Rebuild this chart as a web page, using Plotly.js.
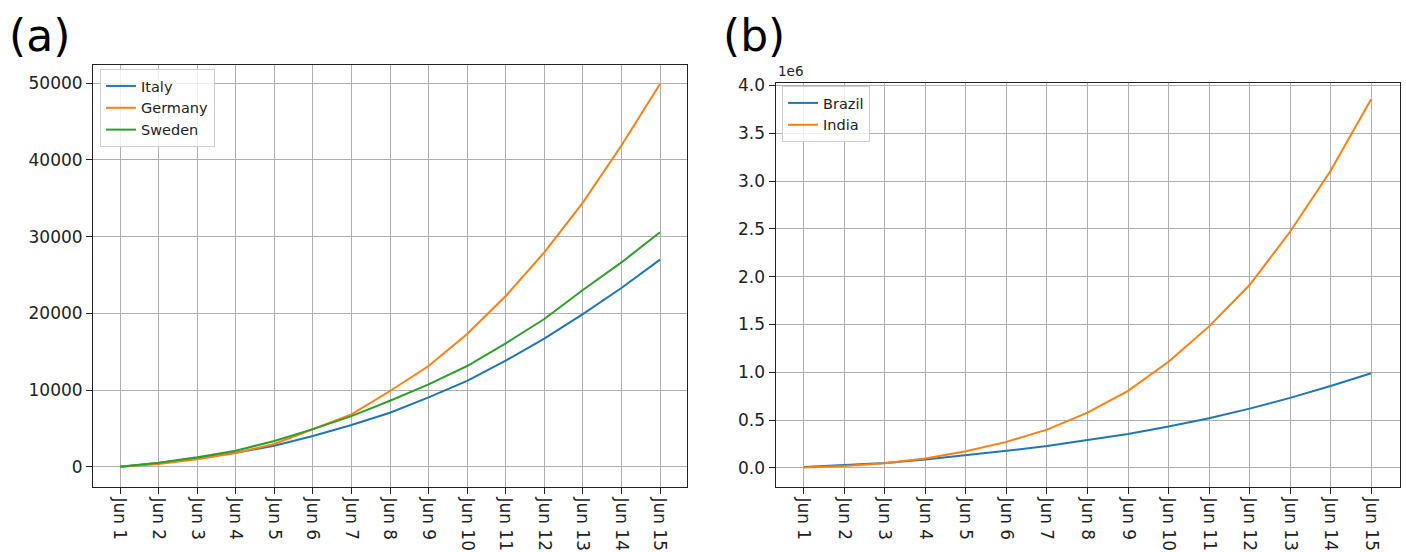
<!DOCTYPE html>
<html>
<head>
<meta charset="utf-8">
<script src="https://cdn.plot.ly/plotly-3.0.1.min.js"></script>
<style>html,body{margin:0;padding:0;background:#fff;}#chart{width:1406px;height:552px;}</style>
</head>
<body>
<div id="chart"></div>
<script>
// ---- data ----
const dates = ['Jun 1','Jun 2','Jun 3','Jun 4','Jun 5','Jun 6','Jun 7','Jun 8','Jun 9','Jun 10','Jun 11','Jun 12','Jun 13','Jun 14','Jun 15'];
const italy   = [0, 480, 1090, 1830, 2740, 4000, 5430, 7040, 9040, 11200, 13830, 16700, 19900, 23300, 27000];
const germany = [0, 350, 960, 1780, 2960, 4870, 6830, 9870, 13130, 17300, 22260, 27950, 34450, 41880, 49900];
const sweden  = [0, 520, 1220, 2090, 3350, 4900, 6600, 8600, 10740, 13130, 16090, 19260, 23040, 26640, 30570];
const brazil  = [10000, 28000, 52000, 87000, 132000, 178000, 230000, 289000, 355000, 432000, 519000, 620000, 732000, 857000, 990000];
const india   = [3000, 20000, 49000, 98000, 174000, 272000, 400000, 578000, 805000, 1110000, 1480000, 1913000, 2470000, 3107000, 3856000];
const yTicksA = [0, 10000, 20000, 30000, 40000, 50000];
const yTicksB = [0.0, 0.5, 1.0, 1.5, 2.0, 2.5, 3.0, 3.5, 4.0];
const scaleB = 1e6;

const C = {blue:'#1f77b4', orange:'#ff7f0e', green:'#2ca02c'};
const FONT = 'DejaVu Sans, sans-serif';

const traces = [
  {x: dates, y: italy, name: 'Italy', mode: 'lines', line: {color: C.blue, width: 2}, xaxis: 'x', yaxis: 'y', legend: 'legend'},
  {x: dates, y: germany, name: 'Germany', mode: 'lines', line: {color: C.orange, width: 2}, xaxis: 'x', yaxis: 'y', legend: 'legend'},
  {x: dates, y: sweden, name: 'Sweden', mode: 'lines', line: {color: C.green, width: 2}, xaxis: 'x', yaxis: 'y', legend: 'legend'},
  {x: dates, y: brazil, name: 'Brazil', mode: 'lines', line: {color: C.blue, width: 2}, xaxis: 'x2', yaxis: 'y2', legend: 'legend2'},
  {x: dates, y: india, name: 'India', mode: 'lines', line: {color: C.orange, width: 2}, xaxis: 'x2', yaxis: 'y2', legend: 'legend2'}
];

const W = 1406, H = 552;
const px = v => v / W;
const py = v => 1 - v / H;

const common = {
  showline: true, mirror: true, linecolor: '#222', linewidth: 1,
  showgrid: true, gridcolor: '#b0b0b0', gridwidth: 1,
  zeroline: false, ticks: 'outside', ticklen: 6, tickcolor: '#222', tickwidth: 1,
  tickfont: {family: FONT, size: 17, color: '#222'}
};

const xCommon = Object.assign({}, common, {
  type: 'category', tickangle: 90, range: [-0.7, 14.7]
});

const legendCommon = {
  bgcolor: 'rgba(255,255,255,0.8)', bordercolor: '#cccccc', borderwidth: 1,
  font: {family: FONT, size: 14.5, color: '#222'},
  xanchor: 'left', yanchor: 'top', tracegroupgap: 0
};

const layout = {
  width: W, height: H,
  margin: {l: 0, r: 0, t: 0, b: 0},
  paper_bgcolor: '#fff', plot_bgcolor: '#fff',
  font: {family: FONT, color: '#222'},
  xaxis: Object.assign({}, xCommon, {domain: [px(93), px(687)], anchor: 'y'}),
  yaxis: Object.assign({}, common, {domain: [py(487), py(65)], anchor: 'x', range: [-2647, 52387],
    tickvals: yTicksA, ticktext: yTicksA.map(v => String(v))}),
  xaxis2: Object.assign({}, xCommon, {domain: [px(775.5), px(1399.5)], anchor: 'y2'}),
  yaxis2: Object.assign({}, common, {domain: [py(487), py(82.5)], anchor: 'x2', range: [-0.2 * scaleB, 4.031 * scaleB],
    tickvals: yTicksB.map(v => v * scaleB), ticktext: yTicksB.map(v => v.toFixed(1))}),
  legend: Object.assign({}, legendCommon, {x: px(100), y: py(69)}),
  legend2: Object.assign({}, legendCommon, {x: px(782), y: py(86)}),
  showlegend: true,
  annotations: [
    {text: '(a)', xref: 'paper', yref: 'paper', x: px(7), y: py(36), xanchor: 'left', yanchor: 'middle',
     showarrow: false, font: {family: FONT, size: 44, color: '#000'}},
    {text: '(b)', xref: 'paper', yref: 'paper', x: px(721), y: py(36), xanchor: 'left', yanchor: 'middle',
     showarrow: false, font: {family: FONT, size: 44, color: '#000'}},
    {text: '1e6', xref: 'paper', yref: 'paper', x: px(776), y: py(71.5), xanchor: 'left', yanchor: 'middle',
     showarrow: false, font: {family: FONT, size: 13.5, color: '#222'}}
  ]
};

Plotly.newPlot('chart', traces, layout, {displayModeBar: false, staticPlot: true});
</script>
</body>
</html>
